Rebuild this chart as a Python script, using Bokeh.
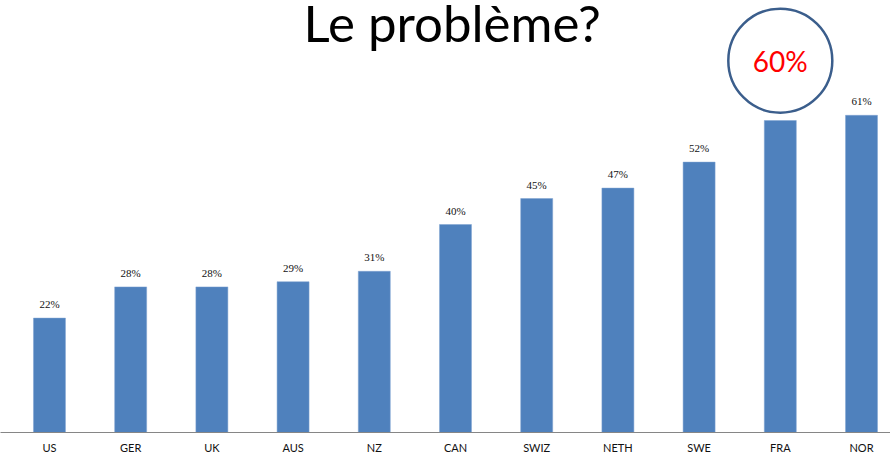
from bokeh.plotting import figure
from bokeh.models import ColumnDataSource, LabelSet, Label, Range1d, FixedTicker
from bokeh.embed import file_html
from bokeh.resources import INLINE

countries = ["US", "GER", "UK", "AUS", "NZ", "CAN", "SWIZ", "NETH", "SWE", "FRA", "NOR"]
values = [22, 28, 28, 29, 31, 40, 45, 47, 52, 60, 61]
labels = ["22%", "28%", "28%", "29%", "31%", "40%", "45%", "47%", "52%", "60%", "61%"]
highlight = "FRA"
title_text = "Le problème?"

xs = list(range(len(countries)))
hi = countries.index(highlight)

small_x = [x for x in xs if x != hi]
small_y = [values[i] for i in small_x]
small_t = [labels[i] for i in small_x]

p = figure(width=890, height=458, output_backend="svg", toolbar_location=None,
           x_range=Range1d(-0.603, 10.357), y_range=Range1d(0, 83.08),
           min_border_left=0, min_border_right=0, min_border_top=0, min_border_bottom=26)
p.outline_line_color = None
p.xgrid.grid_line_color = None
p.ygrid.grid_line_color = None
p.yaxis.visible = False
p.background_fill_color = "white"
p.border_fill_color = "white"

src = ColumnDataSource(dict(x=xs, top=values))
p.vbar(x="x", top="top", width=0.394, bottom=0, source=src,
       fill_color="#4F81BD", line_color="#7FA3D0", line_width=0.5)

lsrc = ColumnDataSource(dict(x=small_x, y=small_y, t=small_t))
p.add_layout(LabelSet(x="x", y="y", text="t", source=lsrc, text_align="center",
                      text_baseline="alphabetic", y_offset=10, text_font="Lato",
                      text_font_size="11px", text_color="#111111"))

# highlight circle around FRA
p.circle(x=[hi], y=[values[hi] + 11.5], radius=52, radius_units="screen",
         fill_color=None, line_color="#3B5E8C", line_width=2.5)
p.add_layout(Label(x=hi, y=values[hi] + 11.5, text=labels[hi], text_align="center",
                   text_baseline="middle", text_font="Lato", text_font_size="28px",
                   text_color="#FF0000"))

p.add_layout(Label(x=4.96, y=78.8, text=title_text, text_align="center",
                   text_baseline="alphabetic", text_font="Lato", text_font_size="51px",
                   text_color="#000000"))

ax = p.xaxis[0]
ax.ticker = FixedTicker(ticks=xs)
ax.major_label_overrides = {i: c for i, c in enumerate(countries)}
ax.major_tick_line_color = None
ax.minor_tick_line_color = None
ax.axis_line_color = "#868686"
ax.axis_line_width = 1.2
ax.major_label_standoff = 2
ax.major_label_text_font = "Lato"
ax.major_label_text_font_size = "11px"
ax.major_label_text_color = "#111111"

open("out.html", "w").write(file_html(p, INLINE))
